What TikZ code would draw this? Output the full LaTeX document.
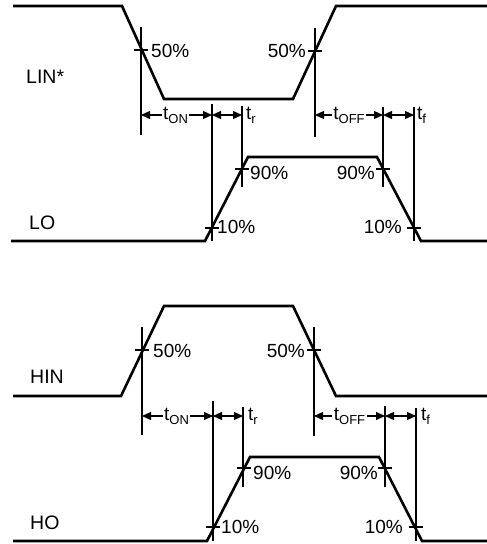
\documentclass[tikz,border=0pt]{standalone}
\usepackage{fontspec}
\setmainfont{Liberation Sans}
\usetikzlibrary{arrows.meta}
\newcommand\tsub[1]{t\raisebox{-0.4ex}{\fontsize{13}{13}\selectfont #1}}
\tikzset{
  wave/.style={line width=2.6pt, line join=miter},
  guide/.style={line width=1.3pt},
  tickmark/.style={line width=1.3pt},
  meas/.style={line width=1.3pt, {Triangle[length=9pt,width=8pt]}-{Triangle[length=9pt,width=8pt]}},
  pct/.style={font=\fontsize{19}{19}\selectfont, inner sep=0pt},
  sig/.style={font=\fontsize{19.5}{19.5}\selectfont, inner sep=0pt, anchor=base west},
  tlab/.style={font=\fontsize{19}{19}\selectfont, inner sep=1.5pt, fill=white},
  tside/.style={font=\fontsize{19}{19}\selectfont, inner sep=0pt, anchor=west},
}
\begin{document}
\begin{tikzpicture}[x=1pt,y=-1pt]
\useasboundingbox (0,0) rectangle (487,544);
% ---------- LIN* ----------
\draw[wave] (13,6) -- (122,6) -- (164,99) -- (293,99) -- (336,6) -- (487,6);
\node[sig] (lin) at (26,83) {LIN*};
\coordinate (a1) at (141,115); \coordinate (a2) at (212,115); \coordinate (a3) at (242,115);
\coordinate (a4) at (315,115); \coordinate (a5) at (383,115); \coordinate (a6) at (414,115);
\draw[guide] (141,27) -- (141,135);
\draw[guide] (315,28) -- (315,137);
\draw[tickmark] (134,50) -- (148,50);
\draw[tickmark] (308,51) -- (322,51);
\node[pct, anchor=west] (p1) at (151,51) {50\%};
\node[pct, anchor=east] (p2) at (306,51) {50\%};
\draw[guide] (212,104) -- (212,241);
\draw[guide] (242,106) -- (242,187);
\draw[guide] (383,107) -- (383,187);
\draw[guide] (414,107) -- (414,241);
\draw[meas] (a1) -- (a2) node[tlab, midway, xshift=-1pt] (ton1) {\tsub{ON}};
\draw[meas] (a2) -- (a3);
\node[tside] (tr1) at (246,115) {\tsub{r}};
\draw[meas] (a4) -- (a5) node[tlab, midway] (toff1) {\tsub{OFF}};
\draw[meas] (a5) -- (a6);
\node[tside] (tf1) at (417,115) {\tsub{f}};
% ---------- LO ----------
\draw[wave] (11,241) -- (205,241) -- (248,157) -- (377,157) -- (421,241) -- (487,241);
\node[sig] (lo) at (29,229) {LO};
\draw[tickmark] (205,228) -- (219,228);
\draw[tickmark] (235,169) -- (249,169);
\draw[tickmark] (376,169) -- (390,169);
\draw[tickmark] (407,228) -- (421,228);
\node[pct, anchor=west] (p3) at (250,173) {90\%};
\node[pct, anchor=west] (p4) at (217,227) {10\%};
\node[pct, anchor=east] (p5) at (375,173) {90\%};
\node[pct, anchor=east] (p6) at (402,227) {10\%};
% ---------- HIN ----------
\draw[wave] (13,396) -- (121,396) -- (164,306) -- (293,306) -- (336,396) -- (487,396);
\node[sig] (hin) at (30,383) {HIN};
\coordinate (b1) at (142,416); \coordinate (b2) at (213,416); \coordinate (b3) at (243,416);
\coordinate (b4) at (314,416); \coordinate (b5) at (385,416); \coordinate (b6) at (416,416);
\draw[guide] (142,327) -- (142,435);
\draw[guide] (314,327) -- (314,436);
\draw[tickmark] (135,350) -- (149,350);
\draw[tickmark] (307,350) -- (321,350);
\node[pct, anchor=west] (p7) at (153,351) {50\%};
\node[pct, anchor=east] (p8) at (305,351) {50\%};
\draw[guide] (213,401) -- (213,541);
\draw[guide] (243,407) -- (243,487);
\draw[guide] (385,406) -- (385,487);
\draw[guide] (416,408) -- (416,541);
\draw[meas] (b1) -- (b2) node[tlab, midway, xshift=-1pt] (ton2) {\tsub{ON}};
\draw[meas] (b2) -- (b3);
\node[tside] (tr2) at (248,416) {\tsub{r}};
\draw[meas] (b4) -- (b5) node[tlab, midway] (toff2) {\tsub{OFF}};
\draw[meas] (b5) -- (b6);
\node[tside] (tf2) at (421,416) {\tsub{f}};
% ---------- HO ----------
\draw[wave] (13,541) -- (207,541) -- (250,457) -- (379,457) -- (422,541) -- (487,541);
\node[sig] (ho) at (30,529) {HO};
\draw[tickmark] (206,527) -- (220,527);
\draw[tickmark] (237,468) -- (251,468);
\draw[tickmark] (378,468) -- (392,468);
\draw[tickmark] (409,527) -- (423,527);
\node[pct, anchor=west] (p9) at (253,473) {90\%};
\node[pct, anchor=west] (p10) at (221,527) {10\%};
\node[pct, anchor=east] (p11) at (378,473) {90\%};
\node[pct, anchor=east] (p12) at (403,527) {10\%};
\end{tikzpicture}
\end{document}
